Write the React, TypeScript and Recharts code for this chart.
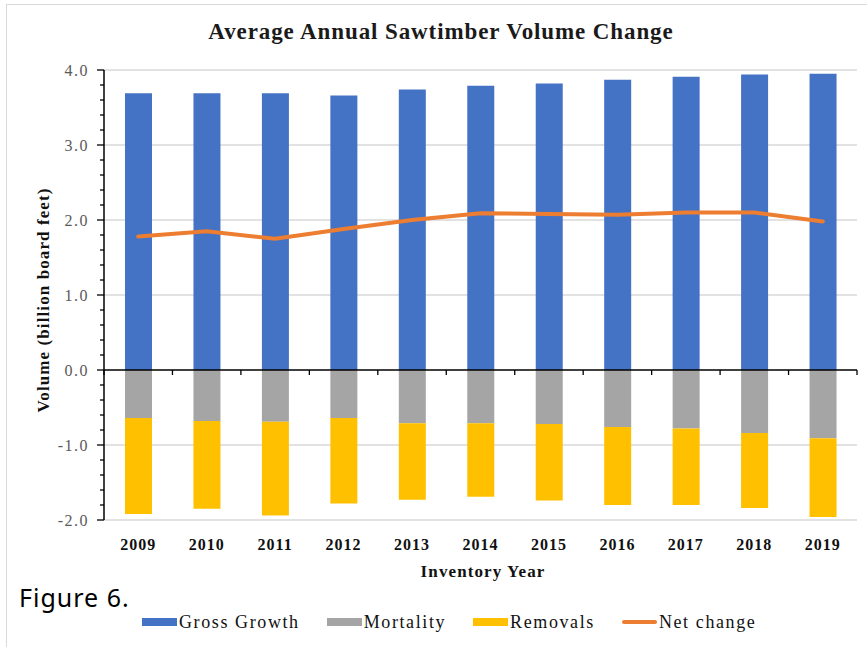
import React from "react";
import { ComposedChart, Bar, Line, XAxis, YAxis, CartesianGrid, ReferenceLine } from "recharts";

const years = ["2009", "2010", "2011", "2012", "2013", "2014", "2015", "2016", "2017", "2018", "2019"];
const grossGrowth = [3.69, 3.69, 3.69, 3.66, 3.74, 3.79, 3.82, 3.87, 3.91, 3.94, 3.95];
const mortality = [-0.64, -0.68, -0.69, -0.64, -0.71, -0.71, -0.72, -0.76, -0.78, -0.84, -0.91];
const removals = [-1.28, -1.17, -1.25, -1.14, -1.02, -0.98, -1.02, -1.04, -1.02, -1.0, -1.05];
const netChange = [1.78, 1.85, 1.75, 1.88, 2.0, 2.09, 2.08, 2.07, 2.1, 2.1, 1.98];

// y axis: labelled majors plus minor marks every 0.2
const yTicks = [
  -2, -1.8, -1.6, -1.4, -1.2, -1, -0.8, -0.6, -0.4, -0.2, 0, 0.2, 0.4, 0.6, 0.8, 1, 1.2, 1.4, 1.6, 1.8, 2,
  2.2, 2.4, 2.6, 2.8, 3, 3.2, 3.4, 3.6, 3.8, 4,
];
const gridValues = [-2, -1, 1, 2, 3, 4];

const seriesNames = ["Gross Growth", "Mortality", "Removals", "Net change"];
const seriesColors = ["#4472C4", "#A5A5A5", "#FFC000", "#ED7D31"];

const data = years.map((year, i) => ({
  year,
  gross: grossGrowth[i],
  mortality: mortality[i],
  removals: removals[i],
  net: netChange[i],
}));

const SERIF = '"Liberation Serif", "Times New Roman", serif';

function YTick(props: any) {
  const { x, y, payload } = props;
  const v = payload.value as number;
  const major = Math.abs(v - Math.round(v)) < 1e-6;
  return (
    <g>
      <line x1={x - (major ? 7 : 4)} x2={x} y1={y} y2={y} stroke="#000" strokeWidth={1.3} />
      {major ? (
        <text
          x={x - 15}
          y={y}
          dy="0.35em"
          textAnchor="end"
          fill="#595959"
          fontFamily={SERIF}
          fontSize={16}
          letterSpacing={1.5}
        >
          {v.toFixed(1)}
        </text>
      ) : null}
    </g>
  );
}

function ZeroAxis(props: any) {
  const { x1, x2, y1 } = props;
  const step = (x2 - x1) / years.length;
  return (
    <g>
      <line x1={x1} x2={x2} y1={y1} y2={y1} stroke="#000" strokeWidth={1.5} />
      {[...years, "end"].map((_, i) => (
        <line key={i} x1={x1 + step * i} x2={x1 + step * i} y1={y1} y2={y1 + 5} stroke="#000" strokeWidth={1.3} />
      ))}
    </g>
  );
}

export default function App() {
  return (
    <div style={{ position: "absolute", left: 0, top: 0, width: 867, height: 647, background: "#fff", overflow: "hidden" }}>
      <div
        style={{
          position: "absolute",
          left: 6,
          top: 4,
          width: 900,
          height: 700,
          borderLeft: "1.5px solid #d9d9d9",
          borderTop: "1.5px solid #d9d9d9",
        }}
      />
      <div
        style={{
          position: "absolute",
          left: 441,
          top: 20,
          transform: "translateX(-50%)",
          whiteSpace: "nowrap",
          fontFamily: SERIF,
          fontWeight: 700,
          fontSize: 23,
          lineHeight: 1,
          letterSpacing: 0.9,
          color: "#1a1a1a",
        }}
      >
        Average Annual Sawtimber Volume Change
      </div>
      <div style={{ position: "absolute", left: 0, top: 0 }}>
        <ComposedChart
          width={867}
          height={647}
          data={data}
          stackOffset="sign"
          margin={{ top: 70, right: 10, bottom: 97, left: 20 }}
        >
          <CartesianGrid vertical={false} horizontalValues={gridValues} stroke="#d9d9d9" strokeWidth={1.5} />
          <XAxis
            dataKey="year"
            interval={0}
            axisLine={false}
            tickLine={false}
            height={30}
            tickMargin={13}
            tick={{ fill: "#111", fontFamily: SERIF, fontWeight: 700, fontSize: 16, letterSpacing: 1 }}
          />
          <YAxis
            type="number"
            domain={[-2, 4]}
            ticks={yTicks}
            interval={0}
            width={84}
            tickSize={0}
            tickMargin={0}
            tickLine={false}
            axisLine={{ stroke: "#000", strokeWidth: 1.5 }}
            tick={<YTick />}
          />
          <Bar dataKey="gross" name={seriesNames[0]} stackId="v" fill={seriesColors[0]} barSize={27} isAnimationActive={false} />
          <Bar dataKey="mortality" name={seriesNames[1]} stackId="v" fill={seriesColors[1]} barSize={27} isAnimationActive={false} />
          <Bar dataKey="removals" name={seriesNames[2]} stackId="v" fill={seriesColors[2]} barSize={27} isAnimationActive={false} />
          <ReferenceLine y={0} shape={(p: any) => <ZeroAxis {...p} />} />
          <Line
            type="linear"
            dataKey="net"
            name={seriesNames[3]}
            stroke={seriesColors[3]}
            strokeWidth={4}
            strokeLinecap="round"
            dot={false}
            isAnimationActive={false}
          />
        </ComposedChart>
      </div>
      <div
        style={{
          position: "absolute",
          left: 43,
          top: 300,
          transform: "translate(-50%, -50%) rotate(-90deg)",
          whiteSpace: "nowrap",
          fontFamily: SERIF,
          fontWeight: 700,
          fontSize: 17,
          lineHeight: 1,
          letterSpacing: 1.1,
          color: "#111",
        }}
      >
        Volume (billion board feet)
      </div>
      <div
        style={{
          position: "absolute",
          left: 483,
          top: 563,
          transform: "translateX(-50%)",
          whiteSpace: "nowrap",
          fontFamily: SERIF,
          fontWeight: 700,
          fontSize: 17,
          lineHeight: 1,
          letterSpacing: 1.1,
          color: "#111",
        }}
      >
        Inventory Year
      </div>
      <div
        style={{
          position: "absolute",
          left: 19,
          top: 585,
          fontFamily: '"Noto Sans", sans-serif',
          fontSize: 25,
          lineHeight: 1,
          letterSpacing: 1,
          color: "#000",
        }}
      >
        Figure 6.
      </div>
      <div
        style={{
          position: "absolute",
          left: 142,
          top: 612,
          height: 20,
          display: "flex",
          alignItems: "center",
          fontFamily: SERIF,
          fontSize: 18,
          letterSpacing: 1.6,
          color: "#111",
        }}
      >
        {seriesNames.map((name, i) => (
          <div key={name} style={{ display: "flex", alignItems: "center", marginRight: 27 }}>
            <div
              style={{
                width: 35,
                height: i === 3 ? 4 : 8,
                borderRadius: i === 3 ? 2 : 0,
                background: seriesColors[i],
                marginRight: 2,
              }}
            />
            <span>{name}</span>
          </div>
        ))}
      </div>
    </div>
  );
}
